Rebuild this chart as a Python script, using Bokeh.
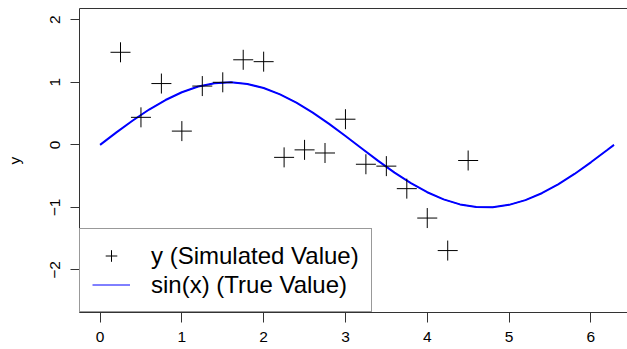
from bokeh.plotting import figure
from bokeh.models import (Range1d, FixedTicker, LinearAxis, Legend, LegendItem)
from bokeh.embed import file_html
from bokeh.resources import INLINE

x_obs = [0.25, 0.5, 0.75, 1.0, 1.25, 1.5, 1.75, 2.0, 2.25, 2.5, 2.75,
         3.0, 3.25, 3.5, 3.75, 4.0, 4.25, 4.5]
y_obs = [1.48, 0.44, 0.98, 0.22, 0.94, 1.00, 1.36, 1.33, -0.20, -0.08, -0.13,
         0.41, -0.31, -0.34, -0.70, -1.17, -1.69, -0.25]

# True curve sin(x), sampled values
x_true = [0.0, 0.2, 0.4, 0.6, 0.8, 1.0, 1.2, 1.4, 1.6, 1.8, 2.0, 2.2, 2.4, 2.6,
          2.8, 3.0, 3.2, 3.4, 3.6, 3.8, 4.0, 4.2, 4.4, 4.6, 4.8, 5.0, 5.2, 5.4,
          5.6, 5.8, 6.0, 6.2, 6.283]
y_true = [0.0, 0.199, 0.389, 0.565, 0.717, 0.841, 0.932, 0.985, 1.0, 0.974,
          0.909, 0.808, 0.675, 0.516, 0.335, 0.141, -0.058, -0.256, -0.443,
          -0.612, -0.757, -0.872, -0.952, -0.994, -0.996, -0.959, -0.883,
          -0.773, -0.631, -0.465, -0.279, -0.083, 0.0]

x_ticks = [0, 1, 2, 3, 4, 5, 6]
y_ticks = [-2, -1, 0, 1, 2]

FONT = "Liberation Sans"
AX = "#333333"

p = figure(width=627, height=349, output_backend="svg", toolbar_location=None,
           x_range=Range1d(-0.2513, 6.448), y_range=Range1d(-2.68, 2.18),
           min_border_left=79, min_border_right=0, min_border_top=8,
           min_border_bottom=37, background_fill_color="white",
           border_fill_color="white")
p.outline_line_color = None
p.xgrid.visible = False
p.ygrid.visible = False

for ax, ticks in ((p.xaxis[0], x_ticks), (p.yaxis[0], y_ticks)):
    ax.ticker = FixedTicker(ticks=ticks, minor_ticks=[])
    ax.axis_line_color = AX
    ax.major_tick_line_color = AX
    ax.major_tick_in = 0
    ax.minor_tick_out = 0
    ax.minor_tick_in = 0
    ax.major_label_text_font = FONT
    ax.major_label_text_font_size = "15.5px"
    ax.major_label_text_color = "black"

p.xaxis[0].major_tick_out = 10
p.xaxis[0].major_label_standoff = 9

p.yaxis[0].major_tick_out = 9
p.yaxis[0].major_label_standoff = 10
p.yaxis[0].major_label_orientation = "vertical"
p.yaxis[0].axis_label = "y"
p.yaxis[0].axis_label_text_font = FONT
p.yaxis[0].axis_label_text_font_size = "15.5px"
p.yaxis[0].axis_label_text_font_style = "normal"
p.yaxis[0].axis_label_text_color = "black"
p.yaxis[0].axis_label_standoff = 25

top = LinearAxis(ticker=FixedTicker(ticks=[], minor_ticks=[]),
                 axis_line_color=AX, major_tick_out=0, major_tick_in=0,
                 minor_tick_out=0, minor_tick_in=0, major_label_standoff=0,
                 major_label_text_font_size="0px")
p.add_layout(top, "above")

# thin copy underneath, used for the legend swatch
leg_line = p.line(x_true, y_true, line_color="blue", line_width=1)
line = p.line(x_true, y_true, line_color="blue", line_width=2)
pts = p.scatter(x_obs, y_obs, marker="cross", size=20, line_color="black",
                line_width=1)

legend = Legend(items=[LegendItem(label="y (Simulated Value)", renderers=[pts]),
                       LegendItem(label="sin(x) (True Value)", renderers=[leg_line])],
                location=(0, 0), margin=0, padding=12, spacing=0,
                glyph_width=38, glyph_height=29, label_standoff=21,
                label_height=29,
                label_text_font=FONT, label_text_font_size="24px",
                label_text_color="black", border_line_color=AX,
                border_line_width=1, background_fill_color="white",
                background_fill_alpha=1.0)
p.add_layout(legend, "center")

open("out.html", "w").write(file_html(p, INLINE))
